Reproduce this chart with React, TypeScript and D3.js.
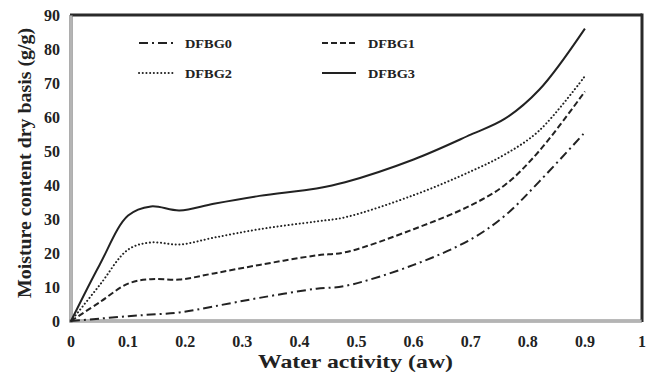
import React from 'react';
import * as d3 from 'd3';

const AW = [0, 0.05, 0.1, 0.14, 0.19, 0.25, 0.33, 0.43, 0.48, 0.6, 0.7, 0.76, 0.82, 0.9];

const DFBG0 = [0, 0.7, 1.4, 1.9, 2.5, 4.3, 6.8, 9.5, 10.3, 16.5, 24, 31, 41, 55.5];
const DFBG1 = [0, 5.5, 11, 12.3, 12.2, 14, 16.5, 19.3, 20.2, 27, 34, 40, 50, 67.5];
const DFBG2 = [0, 10.5, 21, 23.1, 22.5, 24.5, 27, 29.3, 30.5, 37, 44, 49, 56, 72];
const DFBG3 = [0, 16.5, 31, 33.7, 32.5, 34.5, 36.8, 39, 40.8, 47.5, 54.8, 59.5, 68, 86];

const X_TICKS = [0, 0.1, 0.2, 0.3, 0.4, 0.5, 0.6, 0.7, 0.8, 0.9, 1];
const Y_TICKS = [0, 10, 20, 30, 40, 50, 60, 70, 80, 90];

const SERIES = [
    { name: "DFBG0", values: DFBG0, dash: "9,4,2,4", cap: "butt" },
    { name: "DFBG1", values: DFBG1, dash: "6,3", cap: "butt" },
    { name: "DFBG2", values: DFBG2, dash: "0.1,3.6", cap: "round" },
    { name: "DFBG3", values: DFBG3, dash: null, cap: "butt" },
];

const LEGEND_POS = [
    { x: 139, y: 43 },
    { x: 322, y: 43 },
    { x: 139, y: 73 },
    { x: 322, y: 73 },
];

export default function App() {
    const left = 71, right = 642, top = 15, bottom = 321;
    const font = "'Liberation Serif', 'Times New Roman', serif";

    const x = d3.scaleLinear().domain([0, 1]).range([left, right]);
    const y = d3.scaleLinear().domain([0, 90]).range([bottom, top]);

    const line = d3.line<number>()
        .x((d, i) => x(AW[i]))
        .y(d => y(d))
        .curve(d3.curveCatmullRom.alpha(0.5));

    return (
        <svg width={652} height={374} style={{ position: "absolute", left: 0, top: 0, background: "#fff" }}>
            {/* frame: dark top/right, double grey axis lines left/bottom */}
            <line x1={left - 1} x2={right} y1={top} y2={top} stroke="#2a2a2a" strokeWidth={3} />
            <line x1={right} x2={right} y1={top - 1.5} y2={bottom + 1} stroke="#2a2a2a" strokeWidth={3} />
            <line x1={left} x2={left} y1={top} y2={bottom + 1.5} stroke="#777" strokeWidth={3.2} />
            <line x1={left} x2={left} y1={top + 1} y2={bottom + 1} stroke="#fff" strokeWidth={0.9} />
            <line x1={left - 1.5} x2={right} y1={bottom} y2={bottom} stroke="#777" strokeWidth={3.2} />
            <line x1={left} x2={right - 1} y1={bottom} y2={bottom} stroke="#fff" strokeWidth={0.9} />

            {SERIES.map(s => (
                <path key={s.name} d={line(s.values) || ""} fill="none" stroke="#222"
                    strokeWidth={2} strokeDasharray={s.dash || undefined} strokeLinecap={s.cap as any} />
            ))}

            {SERIES.map((s, i) => (
                <g key={"lg" + s.name}>
                    <line x1={LEGEND_POS[i].x} x2={LEGEND_POS[i].x + 34} y1={LEGEND_POS[i].y} y2={LEGEND_POS[i].y}
                        stroke="#222" strokeWidth={2} strokeDasharray={s.dash || undefined} strokeLinecap={s.cap as any} />
                    <text x={LEGEND_POS[i].x + 46} y={LEGEND_POS[i].y + 4.5} fontFamily={font} fontWeight="bold"
                        fontSize={13.5} textLength={47} lengthAdjust="spacingAndGlyphs" fill="#222">{s.name}</text>
                </g>
            ))}

            {Y_TICKS.map(t => (
                <text key={"y" + t} x={60} y={y(t) + 5.5} textAnchor="end" fontFamily={font} fontWeight="bold"
                    fontSize={16} fill="#222">{t}</text>
            ))}
            {X_TICKS.map(t => (
                <text key={"x" + t} x={x(t)} y={347} textAnchor="middle" fontFamily={font} fontWeight="bold"
                    fontSize={16} fill="#222">{t}</text>
            ))}

            <text x={258} y={368} fontFamily={font} fontWeight="bold" fontSize={19.5} fill="#222"
                textLength={195} lengthAdjust="spacingAndGlyphs">
                Water activity (aw)
            </text>
            <text transform={`translate(31,298) rotate(-90)`} fontFamily={font}
                fontWeight="bold" fontSize={19.5} fill="#222" textLength={270} lengthAdjust="spacingAndGlyphs">
                Moisture content dry basis (g/g)
            </text>
        </svg>
    );
}
